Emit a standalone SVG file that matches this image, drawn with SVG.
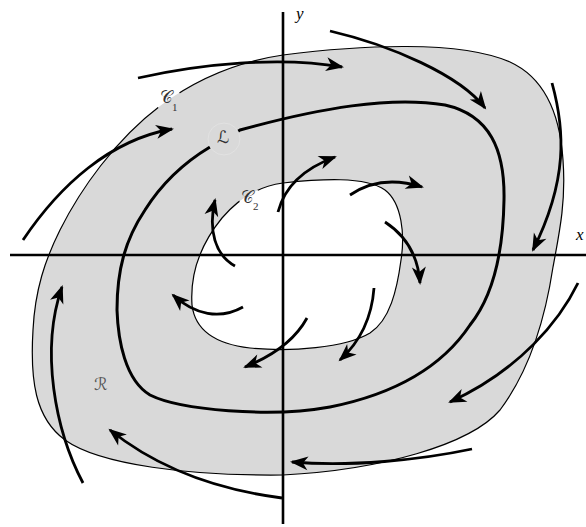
<svg xmlns="http://www.w3.org/2000/svg" width="586" height="527" viewBox="0 0 586 527">
<style>
.thin{fill:none;stroke:#000;stroke-width:1.2}
.traj{fill:none;stroke:#000;stroke-width:2.8;marker-end:url(#ah)}
.axis{stroke:#000;stroke-width:2.6}
.lab{font-family:"DejaVu Serif","DejaVu Sans",serif;font-size:17px;fill:#333}
.sub{font-family:"Liberation Serif",serif;font-size:11px;fill:#333}
.ax{font-family:"Liberation Serif",serif;font-style:italic;font-size:17px;fill:#000}
</style>
<defs>
<marker id="ah" markerUnits="userSpaceOnUse" markerWidth="40" markerHeight="40" refX="0" refY="0" viewBox="-20 -20 40 40" orient="auto" overflow="visible">
<path d="M2,0 L-16,-7 L-11,0 L-16,7 Z" fill="#000"/>
</marker>
<mask id="gaps" maskUnits="userSpaceOnUse" x="0" y="0" width="586" height="527">
<rect x="0" y="0" width="586" height="527" fill="#fff"/>
<circle cx="168" cy="99" r="13" fill="#000"/>
<circle cx="250" cy="198" r="11" fill="#000"/>
<circle cx="224" cy="139" r="16" fill="#000"/>
</mask>
</defs>
<rect width="586" height="527" fill="#fff"/>
<g id="region">
<path fill="#d9d9d9" fill-rule="evenodd" d="M283,55 C360,45 460,40 510,62 C545,78 560,115 563,160 C566,200 560,230 553,267 C545,320 530,370 500,410 C470,445 380,470 283,475 C190,476 100,465 65,440 C35,418 30,380 33,330 C35,290 45,260 60,230 C80,190 115,140 160,106 C195,80 235,62 283,55 Z M283,183 C320,179 365,176 385,190 C402,203 405,235 401,260 C397,290 390,320 370,333 C345,348 290,352 250,348 C215,344 195,330 192,305 C190,275 200,245 222,218 C240,197 260,186 283,183 Z"/>
<g mask="url(#gaps)">
<path id="C1" class="thin" d="M283,55 C360,45 460,40 510,62 C545,78 560,115 563,160 C566,200 560,230 553,267 C545,320 530,370 500,410 C470,445 380,470 283,475 C190,476 100,465 65,440 C35,418 30,380 33,330 C35,290 45,260 60,230 C80,190 115,140 160,106 C195,80 235,62 283,55 Z"/>
<path id="C2" class="thin" d="M283,183 C320,179 365,176 385,190 C402,203 405,235 401,260 C397,290 390,320 370,333 C345,348 290,352 250,348 C215,344 195,330 192,305 C190,275 200,245 222,218 C240,197 260,186 283,183 Z"/>
<path id="L" fill="none" stroke="#000" stroke-width="3" d="M210,147 C230,138 235,133 240,130 C320,108 390,96 445,105 C490,115 505,150 504,200 C503,260 490,300 470,325 C440,370 390,395 330,407 C270,418 180,410 150,395 C125,380 118,340 117,310 C117,270 125,240 145,210 C162,183 185,162 210,147"/>
</g>
<circle cx="224" cy="139" r="16" fill="none" stroke="#e2e2e2" stroke-width="1"/>
</g>
<g id="axes">
<line class="axis" x1="10" y1="255" x2="586" y2="255"/>
<line class="axis" x1="283" y1="12" x2="283" y2="524"/>
<text class="ax" x="296" y="19">y</text>
<text class="ax" x="576" y="240">x</text>
</g>
<g id="labels">
<g id="label-C1"><text class="lab" x="160" y="103">𝒞</text><text class="sub" x="172" y="111">1</text></g>
<g id="label-L"><text class="lab" x="217" y="143">ℒ</text></g>
<g id="label-C2"><text class="lab" x="241" y="203">𝒞</text><text class="sub" x="253" y="210">2</text></g>
<g id="label-R"><text class="lab" x="94" y="390" style="fill:#555">ℛ</text></g>
</g>
<g id="connectors">
<path class="traj" d="M138,78 C200,64 280,56 342,67"/>
<path class="traj" d="M330,31 C390,45 460,75 485,108"/>
<path class="traj" d="M552,83 C565,130 568,180 533,250"/>
<path class="traj" d="M578,283 C560,320 520,370 450,402"/>
<path class="traj" d="M472,449 C420,460 350,467 292,462"/>
<path class="traj" d="M282,498 C220,490 160,470 110,430"/>
<path class="traj" d="M83,483 C55,430 40,350 62,287"/>
<path class="traj" d="M23,240 C60,185 110,140 172,129"/>
<path class="traj" d="M235,266 C215,255 208,230 215,200"/>
<path class="traj" d="M278,212 C285,185 305,168 335,157"/>
<path class="traj" d="M350,195 C375,178 400,180 422,187"/>
<path class="traj" d="M385,222 C405,235 418,255 420,283"/>
<path class="traj" d="M374,288 C372,315 362,340 340,360"/>
<path class="traj" d="M307,318 C295,340 275,355 245,367"/>
<path class="traj" d="M243,307 C220,320 195,315 173,295"/>
</g>
</svg>
